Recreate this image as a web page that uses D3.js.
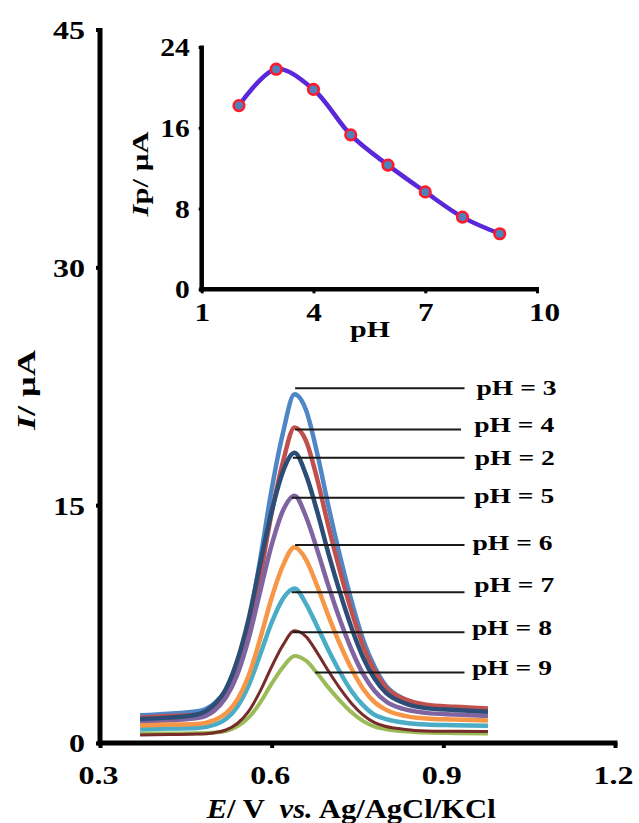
<!DOCTYPE html>
<html><head><meta charset="utf-8">
<script src="https://cdn.jsdelivr.net/npm/d3@7"></script>
<style>
body{margin:0;background:#fff}
svg{display:block}
text{font-family:"Liberation Serif","Times New Roman",serif;font-weight:bold;fill:#000}
</style></head>
<body><svg id="chart" width="639" height="823"></svg>
<script>
// ---------- data ----------
const potentials = [0.37,0.42,0.47,0.50,0.52,0.54,0.56,0.58,0.60,0.62,0.64,0.66,0.68,0.70,0.72,0.74,0.76,0.78,0.80,0.83,0.87,0.92,0.978];
const currentPH2 = [1.52,1.60,1.80,2.44,3.41,5.22,7.87,11.31,14.61,17.15,18.3,16.91,14.54,11.85,9.42,7.22,5.38,4.05,3.16,2.54,2.20,2.08,1.97];
const currentPH3 = [1.75,1.85,2.0,2.5,3.3,4.9,7.6,11.6,16.0,19.6,22.0,21.0,18.2,14.8,11.7,8.9,6.5,4.8,3.6,2.8,2.35,2.15,2.05];
const currentPH4 = [1.60,1.70,1.78,2.22,2.96,4.42,6.88,10.51,14.50,17.77,19.9,19.06,16.59,13.54,10.76,8.25,6.10,4.55,3.49,2.80,2.41,2.28,2.18];
const currentPH5 = [1.35,1.43,1.57,2.05,2.86,4.32,6.61,9.58,12.49,14.68,15.6,14.27,12.13,9.82,7.71,5.85,4.34,3.28,2.62,2.15,1.90,1.79,1.70];
const currentPH6 = [1.10,1.16,1.20,1.45,1.87,2.74,4.27,6.59,9.16,11.22,12.35,11.57,9.86,7.94,6.18,4.65,3.41,2.57,2.09,1.73,1.55,1.48,1.42];
const currentPH7 = [0.87,0.91,0.94,1.15,1.51,2.29,3.65,5.59,7.60,9.12,9.75,8.78,7.32,5.80,4.43,3.25,2.37,1.77,1.51,1.29,1.16,1.12,1.08];
const currentPH8 = [0.50,0.53,0.56,0.65,0.82,1.23,2.01,3.27,4.81,6.19,7.08,6.71,5.67,4.49,3.41,2.48,1.76,1.28,1.04,0.87,0.76,0.74,0.72];
const currentPH9 = [0.60,0.60,0.62,0.66,0.75,1.05,1.61,2.55,3.74,4.79,5.49,5.19,4.38,3.46,2.64,1.92,1.38,1.03,0.87,0.74,0.66,0.62,0.60];

// series in drawing order (later on top)
const seriesPH     = [3, 4, 9, 5, 7, 6, 2, 8];
const seriesColors = ["#4f86c6","#c0504d","#9bbb59","#8064a2","#4bacc6","#f79646","#2c4d75","#772c2a"];
const seriesWidths = [4.5, 4.5, 4, 4.5, 4.5, 4.5, 4.5, 3];

// annotation labels (data units)
const labelPH        = [3, 4, 2, 5, 6, 7, 8, 9];
const leaderLevel    = [22.37, 19.78, 17.99, 15.47, 12.49, 9.50, 6.98, 4.45];
const leaderStartE   = [0.641, 0.641, 0.637, 0.635, 0.641, 0.635, 0.637, 0.676];
const leaderEndE     = [0.937, 0.931, 0.937, 0.937, 0.937, 0.937, 0.937, 0.937];
const labelE         = [0.958, 0.954, 0.955, 0.954, 0.951, 0.954, 0.950, 0.950];
const labelBaseLevel = [21.95, 19.63, 17.53, 15.12, 12.17, 9.54, 6.81, 4.29];

// axis ticks
const mainXTicks = [0.3, 0.6, 0.9, 1.2];
const mainYTicks = [0, 15, 30, 45];

// inset data
const insetPH = [2, 3, 4, 5, 6, 7, 8, 9];
const insetIp = [18.2, 21.8, 19.8, 15.3, 12.3, 9.65, 7.15, 5.5];
const insetXTicks = [1, 4, 7, 10];
const insetYTicks = [0, 8, 16, 24];

// ---------- drawing ----------
const svg = d3.select("#chart");
const byPH = {2:currentPH2,3:currentPH3,4:currentPH4,5:currentPH5,6:currentPH6,7:currentPH7,8:currentPH8,9:currentPH9};

function stretch(sel, k){
  sel.each(function(){
    const L = this.getComputedTextLength();
    d3.select(this).attr("textLength", L*k).attr("lengthAdjust","spacingAndGlyphs");
  });
}

// main scales
const x = d3.scaleLinear().domain([0.3, 1.2]).range([100, 615]);
const y = d3.scaleLinear().domain([0, 45]).range([743, 29.5]);

// curves
const line = d3.line().x(d => x(d[0])).y(d => y(d[1])).curve(d3.curveMonotoneX);
const gCurves = svg.append("g");
seriesPH.forEach((ph, i) => {
  const vals = byPH[ph];
  gCurves.append("path")
    .attr("d", line(potentials.map((e, j) => [e, vals[j]])))
    .attr("fill", "none")
    .attr("stroke", seriesColors[i])
    .attr("stroke-width", seriesWidths[i])
    .attr("stroke-linecap", "butt")
    .attr("stroke-linejoin", "round");
});

// leader lines & labels
const gLab = svg.append("g");
labelPH.forEach((ph, i) => {
  gLab.append("line")
    .attr("x1", x(leaderStartE[i])).attr("x2", x(leaderEndE[i]))
    .attr("y1", y(leaderLevel[i])).attr("y2", y(leaderLevel[i]))
    .attr("stroke", "#1a1a1a").attr("stroke-width", 2);
  const t = gLab.append("text")
    .attr("x", x(labelE[i])).attr("y", y(labelBaseLevel[i]))
    .style("font-size", "22px")
    .text("pH = " + ph);
  t.attr("textLength", 80).attr("lengthAdjust", "spacingAndGlyphs");
});

// main axes
const xAxis = d3.axisBottom(x).tickValues(mainXTicks).tickFormat(d3.format(".1f")).tickSize(5).tickSizeOuter(0);
const gx = svg.append("g").attr("transform", "translate(0,743)").call(xAxis);
gx.select(".domain").attr("stroke", "#000").attr("stroke-width", 5).attr("d", "M97.5,0H617.5");
gx.selectAll(".tick line").attr("stroke", "#000").attr("stroke-width", 4);
gx.selectAll(".tick text").attr("y", 41).attr("dy", null).attr("x", -2)
  .style("font-size", "26px").style("font-family", "Liberation Serif").style("font-weight", "bold").attr("fill", "#000");
stretch(gx.selectAll(".tick text"), 1.23);

const yAxis = d3.axisLeft(y).tickValues(mainYTicks).tickFormat(d3.format("d")).tickSize(4).tickSizeOuter(0);
const gy = svg.append("g").attr("transform", "translate(100,0)").call(yAxis);
gy.select(".domain").attr("stroke", "#000").attr("stroke-width", 5).attr("d", "M0,28V745.5");
gy.selectAll(".tick line").attr("stroke", "#000").attr("stroke-width", 4);
gy.selectAll(".tick text").attr("x", -15).attr("dy", "0.34em")
  .style("font-size", "26px").style("font-family", "Liberation Serif").style("font-weight", "bold").attr("fill", "#000");
stretch(gy.selectAll(".tick text"), 1.23);

// main axis titles
const xt = svg.append("text").attr("x", 206.7).attr("y", 818).style("font-size", "27px");
xt.append("tspan").style("font-style", "italic").text("E");
xt.append("tspan").text("/ V  ");
xt.append("tspan").style("font-style", "italic").text("vs.");
xt.append("tspan").text(" Ag/AgCl/KCl");
xt.attr("xml:space", "preserve").style("white-space", "pre").attr("textLength", 289).attr("lengthAdjust", "spacingAndGlyphs");

const yt = svg.append("text").attr("transform", "translate(35,390) rotate(-90)")
  .attr("text-anchor", "middle").style("font-size", "25px");
yt.append("tspan").style("font-style", "italic").text("I");
yt.append("tspan").text("/ µA");
yt.attr("textLength", 80).attr("lengthAdjust", "spacingAndGlyphs");

// ---------- inset ----------
const ix = d3.scaleLinear().domain([1, 10]).range([201.7, 537]);
const iy = d3.scaleLinear().domain([0, 24]).range([289.3, 47]);

const ixAxis = d3.axisBottom(ix).tickValues(insetXTicks).tickFormat(d3.format("d")).tickSize(4).tickSizeOuter(0);
const igx = svg.append("g").attr("transform", "translate(0,289.3)").call(ixAxis);
igx.select(".domain").attr("stroke", "#000").attr("stroke-width", 4.5).attr("d", "M199.5,0H539");
igx.selectAll(".tick line").attr("stroke", "#000").attr("stroke-width", 3);
igx.selectAll(".tick text").attr("y", 32).attr("dy", null)
  .style("font-size", "26px").style("font-family", "Liberation Serif").style("font-weight", "bold").attr("fill", "#000");
igx.selectAll(".tick text").filter(d => d === 10).attr("x", 7);
stretch(igx.selectAll(".tick text"), 1.2);

const iyAxis = d3.axisLeft(iy).tickValues(insetYTicks).tickFormat(d3.format("d")).tickSize(3).tickSizeOuter(0);
const igy = svg.append("g").attr("transform", "translate(201.7,0)").call(iyAxis);
igy.select(".domain").attr("stroke", "#000").attr("stroke-width", 4.5).attr("d", "M0,45.5V291.5");
igy.selectAll(".tick line").attr("stroke", "#000").attr("stroke-width", 3);
igy.selectAll(".tick text").attr("x", -12).attr("dy", "0.34em")
  .style("font-size", "25px").style("font-family", "Liberation Serif").style("font-weight", "bold").attr("fill", "#000");
stretch(igy.selectAll(".tick text"), 1.18);

// inset line and markers
const iline = d3.line().x((d, i) => ix(insetPH[i])).y(d => iy(d)).curve(d3.curveCatmullRom.alpha(0.5));
svg.append("path").attr("d", iline(insetIp))
  .attr("fill", "none").attr("stroke", "#5a28d8").attr("stroke-width", 4.5);
svg.append("g").selectAll("circle").data(insetIp).join("circle")
  .attr("cx", (d, i) => ix(insetPH[i])).attr("cy", d => iy(d)).attr("r", 5.3)
  .attr("fill", "#4f81bd").attr("stroke", "#ff1a2a").attr("stroke-width", 2.6);

// inset titles
svg.append("text").attr("x", 370).attr("y", 337).attr("text-anchor", "middle")
  .style("font-size", "24px").text("pH").attr("textLength", 40).attr("lengthAdjust", "spacingAndGlyphs");
const iyt = svg.append("text").attr("transform", "translate(147.5,174) rotate(-90)")
  .attr("text-anchor", "middle").style("font-size", "24px");
iyt.append("tspan").style("font-style", "italic").text("I");
iyt.append("tspan").text("p/ µA");
iyt.attr("textLength", 85).attr("lengthAdjust", "spacingAndGlyphs");
</script>
</body></html>
